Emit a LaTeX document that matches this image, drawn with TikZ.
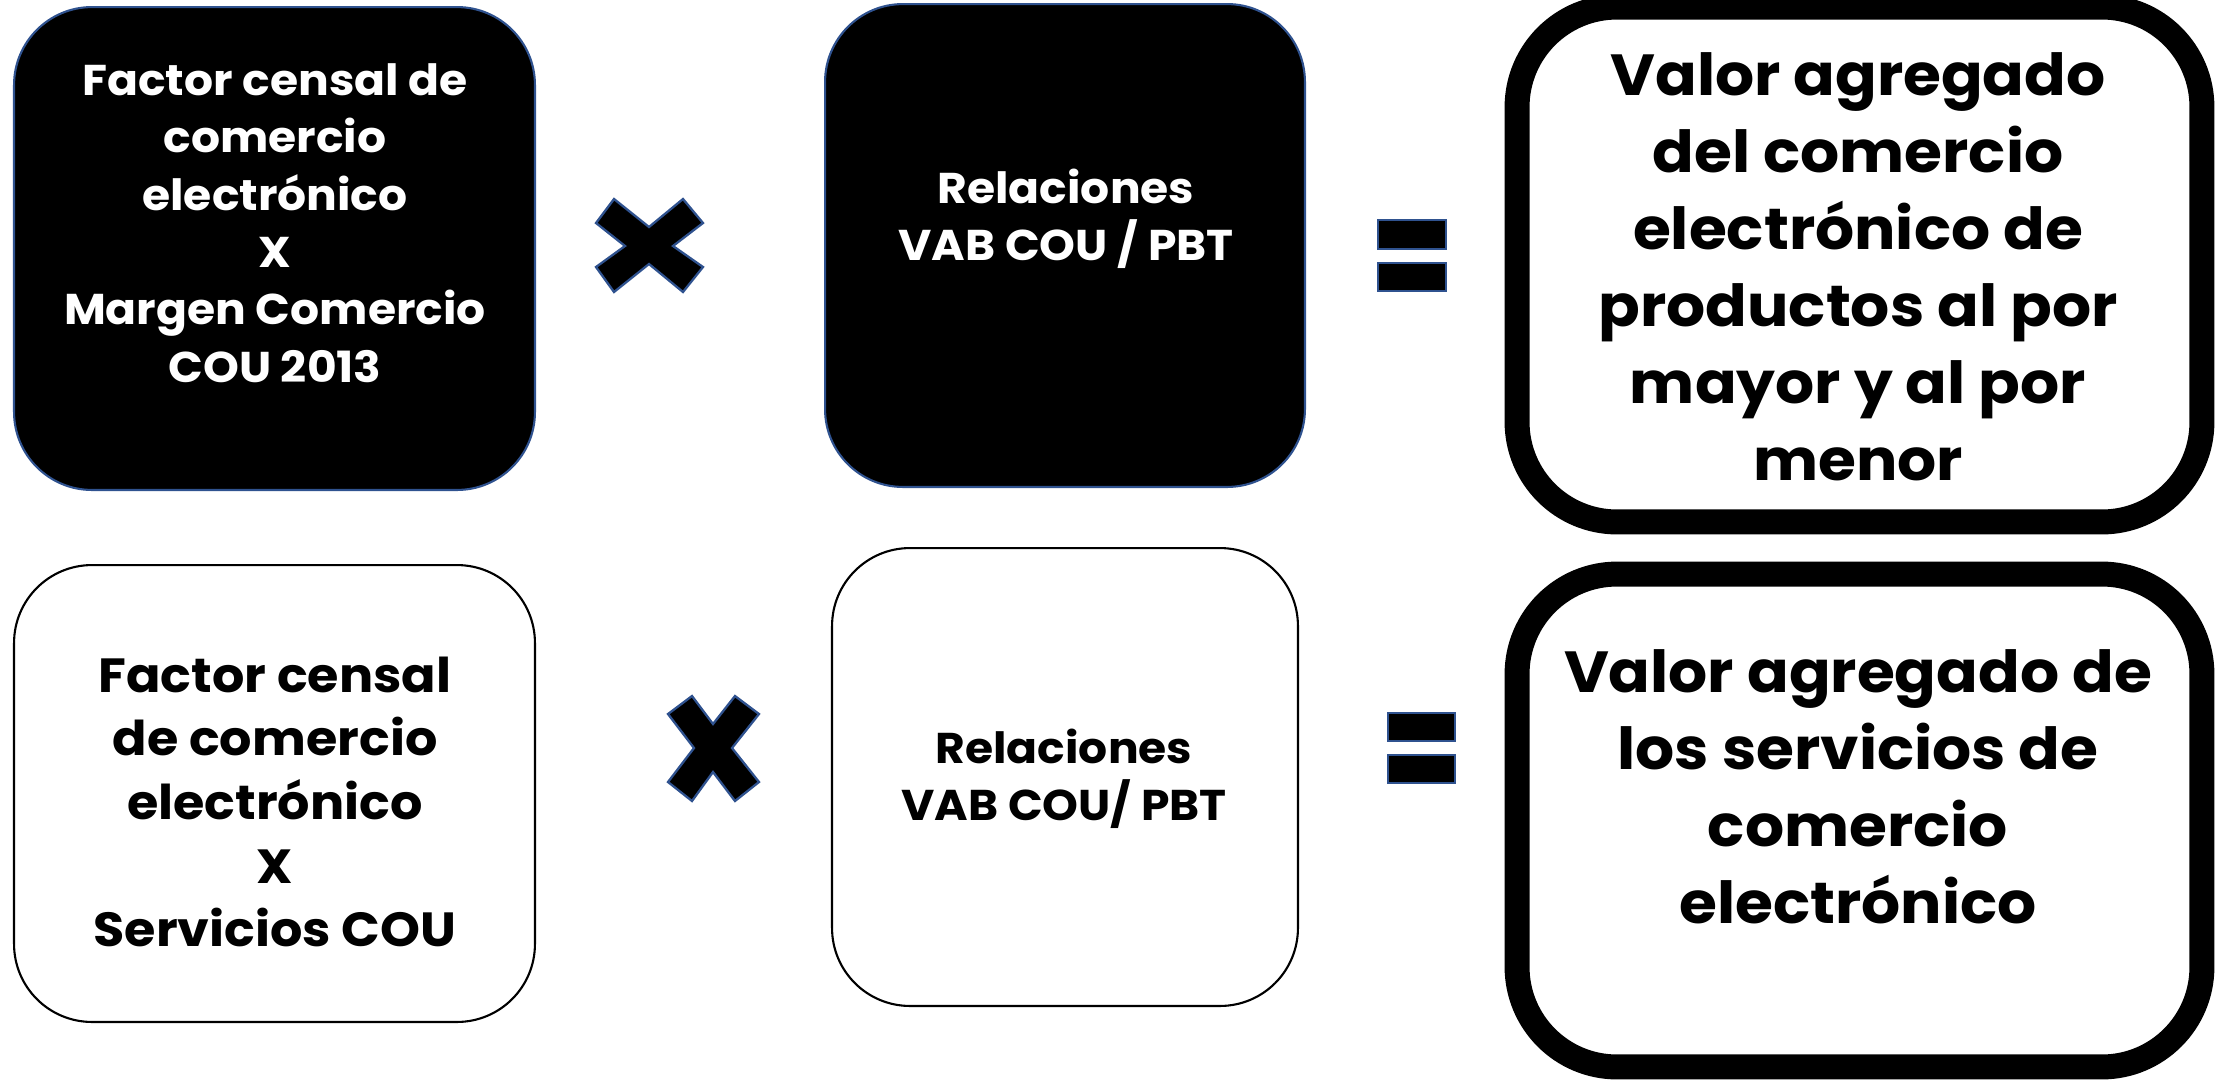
\documentclass[tikz,border=0pt]{standalone}
\usepackage{fontspec}
\setmainfont{Poppins}[FakeStretch=1.06]
\definecolor{edgeblue}{HTML}{2F528F}
\tikzset{
  darkbox/.style={draw=edgeblue, line width=1.2pt, fill=black, rounded corners=1.56cm, inner sep=0pt, outer sep=0pt},
  lightbox/.style={draw=black, line width=1.2pt, fill=white, rounded corners=1.56cm, inner sep=0pt, outer sep=0pt},
  resultbox/.style={draw=black, line width=14.2pt, fill=white, rounded corners=2.0cm, inner sep=0pt, outer sep=0pt},
  txt/.style={align=center, inner sep=0pt},
  smalltxt/.style={txt, font=\fontsize{24.5pt}{32.7pt}\selectfont\bfseries},
  midtxt/.style={txt, font=\fontsize{27.3pt}{36.2pt}\selectfont\bfseries},
  bigtxt/.style={txt, font=\fontsize{33pt}{43.8pt}\selectfont\bfseries},
  sign/.style={fill=black, draw=edgeblue, line width=1.3pt, line join=miter}
}
\begin{document}
\begin{tikzpicture}[x=0.02cm, y=-0.02cm]
\useasboundingbox (0,0) rectangle (2219,1080);
% boxes
\node[darkbox, minimum width=10.42cm, minimum height=9.66cm] (b1) at (274.5,248.5) {};
\node[darkbox, minimum width=9.6cm, minimum height=9.66cm] (b2) at (1065,245.5) {};
\node[resultbox, minimum width=13.7cm, minimum height=10.3cm] (b3) at (1859.5,264.5) {};
\node[lightbox, minimum width=10.42cm, minimum height=9.14cm] (b4) at (274.5,793.5) {};
\node[lightbox, minimum width=9.32cm, minimum height=9.16cm] (b5) at (1065,777) {};
\node[resultbox, minimum width=13.7cm, minimum height=9.86cm] (b6) at (1859.5,820.5) {};
% texts
\node[smalltxt, text=white] (t1) at (275,223) {Factor censal de\\comercio\\electrónico\\X\\Margen Comercio\\COU 2013};
\node[smalltxt, text=white] (t2) at (1066,219) {Relaciones\\VAB COU / PBT};
\node[bigtxt] (t3) at (1858,267) {Valor agregado\\del comercio\\electrónico de\\productos al por\\mayor y al por\\menor};
\node[midtxt] (t4) at (275,802) {Factor censal\\de comercio\\electrónico\\X\\Servicios COU};
\node[smalltxt] (t5) at (1064,779) {Relaciones\\VAB COU/ PBT};
\node[bigtxt] (t6) at (1858,787) {Valor agregado de\\los servicios de\\comercio\\electrónico};
% multiplication signs
\draw[sign] (614,199) -- (649,227) -- (683,199) -- (703,223) -- (673,246) -- (703,267) -- (683,292) -- (649,264) -- (614,292) -- (596,267) -- (625,246) -- (596,223) -- cycle;
\draw[sign] (692,696) -- (713,724) -- (735,696) -- (759,714) -- (732,748) -- (759,782) -- (735,801) -- (713,772) -- (692,801) -- (668,782) -- (694,748) -- (668,714) -- cycle;
% equals signs
\draw[sign] (1378,220) rectangle (1446,249);
\draw[sign] (1378,263) rectangle (1446,291);
\draw[sign] (1388,713) rectangle (1455,741);
\draw[sign] (1388,755) rectangle (1455,783);
\end{tikzpicture}
\end{document}
